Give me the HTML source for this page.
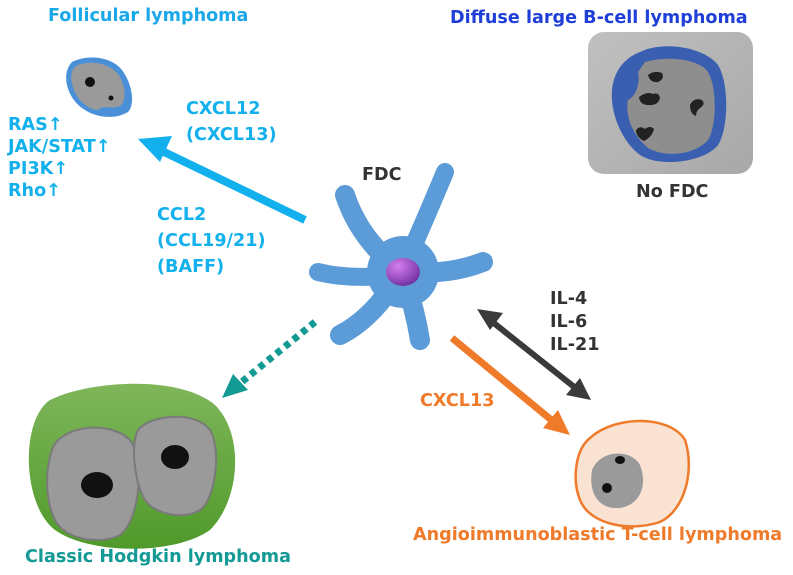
<!DOCTYPE html>
<html><head><meta charset="utf-8"><style>
body{margin:0;width:793px;height:575px;background:#fff;overflow:hidden;font-family:"DejaVu Sans","Liberation Sans",sans-serif;font-weight:bold}
.t{position:absolute;white-space:nowrap;font-size:17.6px;line-height:22px}
</style></head><body>
<svg width="793" height="575" style="position:absolute;left:0;top:0">
<defs>
<radialGradient id="nuc" cx="0.35" cy="0.3" r="0.8"><stop offset="0" stop-color="#d57ef0"/><stop offset="1" stop-color="#6a2a9a"/></radialGradient>
<linearGradient id="box" x1="0" y1="0" x2="1" y2="1"><stop offset="0" stop-color="#c0c0c0"/><stop offset="1" stop-color="#a8a8a8"/></linearGradient>
<linearGradient id="gr" x1="0" y1="0" x2="0" y2="1"><stop offset="0" stop-color="#7fb65a"/><stop offset="1" stop-color="#4f9a2a"/></linearGradient>
</defs>
<path d="M72,62 C85,55 110,55 122,70 C133,85 135,105 128,112 C115,120 95,118 82,108 C68,98 60,75 72,62Z" fill="#4a90d9"/>
<path d="M76,66 C88,60 108,62 118,74 C126,86 127,100 120,106 C112,110 104,104 98,110 C88,110 78,100 74,90 C70,80 70,70 76,66Z" fill="#9a9a9a"/>
<ellipse cx="90" cy="82" rx="5" ry="5" fill="#111"/><circle cx="111" cy="98" r="2.5" fill="#111"/>
<rect x="588" y="32" width="165" height="142" rx="16" fill="url(#box)"/>
<path d="M640,52 C665,40 705,48 718,65 C730,85 728,130 718,145 C705,162 660,168 640,155 C620,140 610,110 612,90 C614,70 625,58 640,52Z" fill="#3a5fb0"/>
<path d="M645,62 C670,55 700,60 708,72 C718,90 716,128 708,140 C695,155 665,158 648,148 C632,135 625,115 628,100 C638,95 640,80 638,72 Z" fill="#8e8e8e"/>
<path d="M648,75 q6,-5 14,-2 q3,6 -4,9 q-8,1 -10,-7Z M639,97 q8,-6 14,-3 q6,-2 7,4 q-2,8 -12,7 q-8,0 -9,-8Z M690,105 q4,-8 12,-5 q4,4 -2,8 q-4,3 -4,8 q-6,-2 -6,-11Z M636,130 q4,-5 9,-1 q5,-4 9,0 q-2,8 -10,12 q-8,-4 -8,-11Z" fill="#222"/>
<path d="M50,400 C90,380 180,375 215,405 C245,435 240,500 210,530 C175,555 90,555 55,530 C22,505 20,420 50,400Z" fill="url(#gr)"/>
<path d="M52,450 C60,425 110,420 130,440 C145,460 140,520 120,535 C100,545 65,540 55,520 C45,500 45,470 52,450Z" fill="#9a9a9a" stroke="#7a7a7a" stroke-width="2"/>
<path d="M138,430 C150,415 195,410 210,430 C222,450 215,500 200,510 C185,520 155,515 145,500 C135,485 130,445 138,430Z" fill="#9a9a9a" stroke="#7a7a7a" stroke-width="2"/>
<ellipse cx="97" cy="485" rx="16" ry="13" fill="#111"/><ellipse cx="175" cy="457" rx="14" ry="12" fill="#111"/>
<path d="M590,438 C615,415 670,415 685,440 C695,470 685,510 660,522 C630,532 590,525 580,500 C572,480 575,450 590,438Z" fill="#fbe3d4" stroke="#ef7a2a" stroke-width="2.5"/>
<path d="M592,470 C600,450 630,448 640,465 C648,485 640,505 620,508 C600,510 588,495 592,470Z" fill="#9a9a9a"/>
<ellipse cx="620" cy="460" rx="5" ry="4" fill="#111"/><ellipse cx="607" cy="488" rx="5" ry="5" fill="#111"/>
<g stroke="#5b9bd8" stroke-linecap="round" fill="none">
<path d="M400,270 Q360,240 345,195" stroke-width="20"/>
<path d="M405,265 Q425,220 445,172" stroke-width="18"/>
<path d="M410,272 Q450,275 483,262" stroke-width="20"/>
<path d="M405,280 Q415,310 420,340" stroke-width="20"/>
<path d="M395,282 Q370,320 340,335" stroke-width="20"/>
<path d="M395,275 Q350,280 318,272" stroke-width="18"/>
</g>
<circle cx="403" cy="272" r="36" fill="#5b9bd8"/>
<ellipse cx="403" cy="272" rx="17" ry="14" fill="url(#nuc)"/>
<line x1="305" y1="220" x2="160" y2="150" stroke="#12b0ec" stroke-width="8"/>
<polygon points="138,139 172,136 160,162" fill="#12b0ec"/>
<line x1="315" y1="322" x2="238" y2="385" stroke="#149a94" stroke-width="7" stroke-dasharray="6,5"/>
<polygon points="222,398 233,374 248,390" fill="#149a94"/>
<line x1="490" y1="320" x2="578" y2="390" stroke="#3a3a3a" stroke-width="6"/>
<polygon points="477,309 503,313 490,330" fill="#3a3a3a"/>
<polygon points="591,400 566,395 580,378" fill="#3a3a3a"/>
<line x1="452" y1="338" x2="555" y2="423" stroke="#ef7a2a" stroke-width="7"/>
<polygon points="570,435 543,428 558,410" fill="#ef7a2a"/>
</svg>
<div class="t" style="left:48px;top:5px;color:#1aa8e8">Follicular lymphoma</div>
<div class="t" style="left:450px;top:7px;color:#1f3fd8">Diffuse large B-cell lymphoma</div>
<div class="t" style="left:636px;top:181px;color:#333">No FDC</div>
<div class="t" style="left:362px;top:164px;color:#333">FDC</div>
<div class="t" style="left:8px;top:114px;color:#12b0ec">RAS↑<br>JAK/STAT↑<br>PI3K↑<br>Rho↑</div>
<div class="t" style="left:186px;top:96px;color:#12b0ec;line-height:26px">CXCL12<br>(CXCL13)</div>
<div class="t" style="left:157px;top:202px;color:#12b0ec;line-height:26px">CCL2<br>(CCL19/21)<br>(BAFF)</div>
<div class="t" style="left:550px;top:288px;color:#333;line-height:23px">IL-4<br>IL-6<br>IL-21</div>
<div class="t" style="left:420px;top:390px;color:#ef7a2a">CXCL13</div>
<div class="t" style="left:25px;top:546px;color:#149a94">Classic Hodgkin lymphoma</div>
<div class="t" style="left:413px;top:524px;color:#ef7a2a">Angioimmunoblastic T-cell lymphoma</div>
</body></html>
